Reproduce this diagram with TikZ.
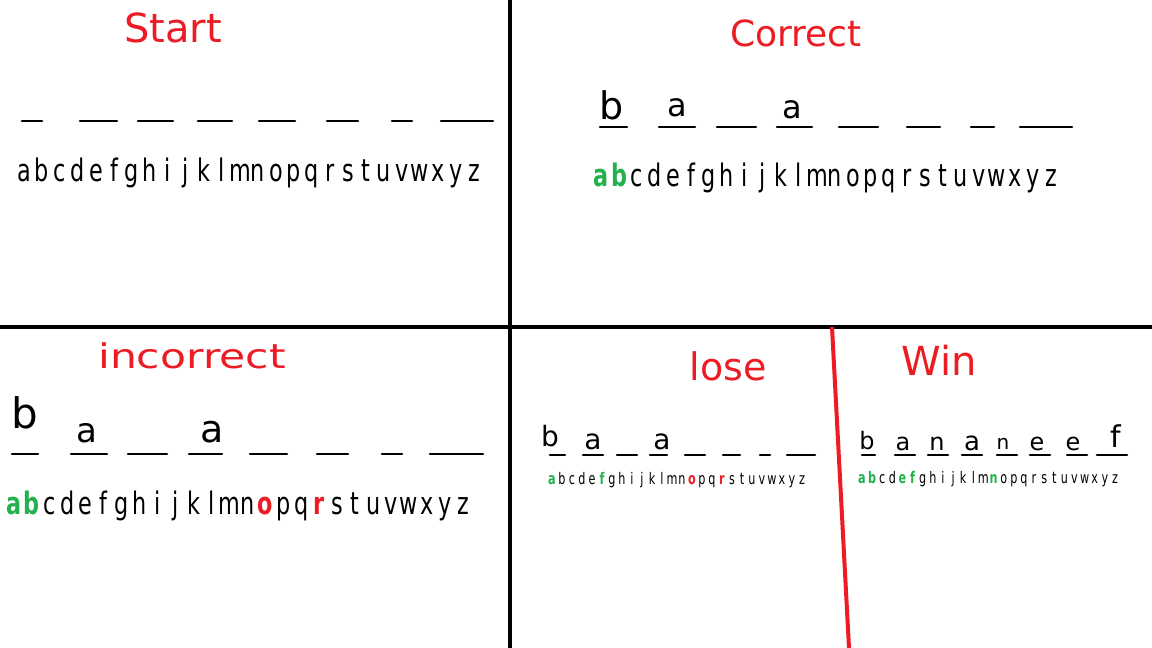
\documentclass[tikz,border=0pt]{standalone}
\usepackage{fontspec}
\setmainfont{DejaVu Sans}
\definecolor{pred}{RGB}{237,28,36}
\definecolor{pgreen}{RGB}{34,177,76}
\tikzset{
  ttl/.style={text=pred, anchor=base, inner sep=0pt},
  glyph/.style={anchor=base, inner sep=0pt},
  dashln/.style={line width=2.6pt, line cap=round},
  frame/.style={line width=4pt},
  splitln/.style={line width=4pt, draw=pred},
  good/.style={text=pgreen, font=\bfseries},
  bad/.style={text=pred, font=\bfseries},
  cor a/.style={good}, cor b/.style={good},
  inc a/.style={good}, inc b/.style={good}, inc o/.style={bad}, inc r/.style={bad},
  los a/.style={good}, los f/.style={good}, los o/.style={bad}, los r/.style={bad},
  win a/.style={good}, win b/.style={good}, win e/.style={good}, win f/.style={good}, win n/.style={good},
}
\newcommand\alphrow[6]{%
  \foreach \l [count=\i from 0] in {a,...,z}{
    \node[glyph, #1 \l/.try] (#1-\l) at ({#2+\i*#3},#4)
      {\fontsize{#5}{#5}\selectfont\scalebox{#6}[1]{\l}};
  }%
}
\newcommand\guess[5]{% name, x, baseline, size, letter
  \node[glyph] (#1) at (#2,#3) {\fontsize{#4}{#4}\selectfont #5};
}
\begin{document}
\begin{tikzpicture}[x=1pt,y=-1pt]
\useasboundingbox (0,0) rectangle (1152,648);
\fill[white] (0,0) rectangle (1152,648);
% frame lines
\coordinate (vtop) at (510,0);
\coordinate (vbot) at (510,648);
\coordinate (hl) at (0,327);
\coordinate (hr) at (1152,327);
\coordinate (rtop) at (832,327);
\coordinate (rbot) at (849,648);
\draw[frame] (vtop) -- (vbot);
\draw[frame] (hl) -- (hr);
\draw[splitln] (rtop) -- (rbot);

% ---------- Start ----------
\node[ttl, font=\fontsize{40}{40}\selectfont] (tstart) at (173,42) {Start};
\foreach \a/\b in {22/42,80/117,138/173,198/232,259/295,327/358,392/412,441/493}
  \draw[dashln] (\a,121) -- (\b,121);
\alphrow{sta}{24}{18}{181}{31}{0.72}

% ---------- Correct ----------
\node[ttl, font=\fontsize{36}{36}\selectfont] (tcor) at (796,46) {Correct};
\foreach \a/\b in {600/627,659/695,717/756,777/812,839/878,907/940,971/994,1020/1072}
  \draw[dashln] (\a,127) -- (\b,127);
\guess{c1}{612}{119}{38}{b}
\guess{c2}{677}{116}{32}{a}
\guess{c4}{792}{118}{32}{a}
\alphrow{cor}{601}{18}{186}{31}{0.72}

% ---------- incorrect ----------
\node[ttl, font=\fontsize{34}{34}\selectfont] (tinc) at (192,368) {\scalebox{1.25}[1]{incorrect}};
\foreach \a/\b in {12/38,71/107,128/167,189/222,250/287,317/348,382/402,430/483}
  \draw[dashln] (\a,454) -- (\b,454);
\guess{i1}{25}{428}{42}{b}
\guess{i2}{87}{442}{34}{a}
\guess{i4}{212}{442}{38}{a}
\alphrow{inc}{14}{17.96}{514}{31}{0.72}

% ---------- lose ----------
\node[ttl, font=\fontsize{38}{38}\selectfont] (tlos) at (728,380) {lose};
\foreach \a/\b in {550/565,583/603,617/637,650/667,685/705,723/740,760/770,787/815}
  \draw[dashln] (\a,455) -- (\b,455);
\guess{l1}{550}{446}{28}{b}
\guess{l2}{593}{449}{28}{a}
\guess{l4}{662}{449}{28}{a}
\alphrow{los}{552}{10}{484}{16}{0.7}

% ---------- Win ----------
\node[ttl, font=\fontsize{40}{40}\selectfont] (twin) at (939,375) {Win};
\foreach \a/\b in {862/875,895/915,928/948,962/982,997/1017,1030/1050,1067/1087,1097/1127}
  \draw[dashln] (\a,455) -- (\b,455);
\guess{w1}{867}{449}{24}{b}
\guess{w2}{903}{450}{24}{a}
\guess{w3}{937}{450}{24}{n}
\guess{w4}{972}{450}{26}{a}
\guess{w5}{1003}{449}{20}{n}
\guess{w6}{1037}{450}{24}{e}
\guess{w7}{1073}{450}{24}{e}
\guess{w8}{1116}{447}{30}{f}
\alphrow{win}{862}{10.12}{483}{16}{0.7}
\end{tikzpicture}
\end{document}
